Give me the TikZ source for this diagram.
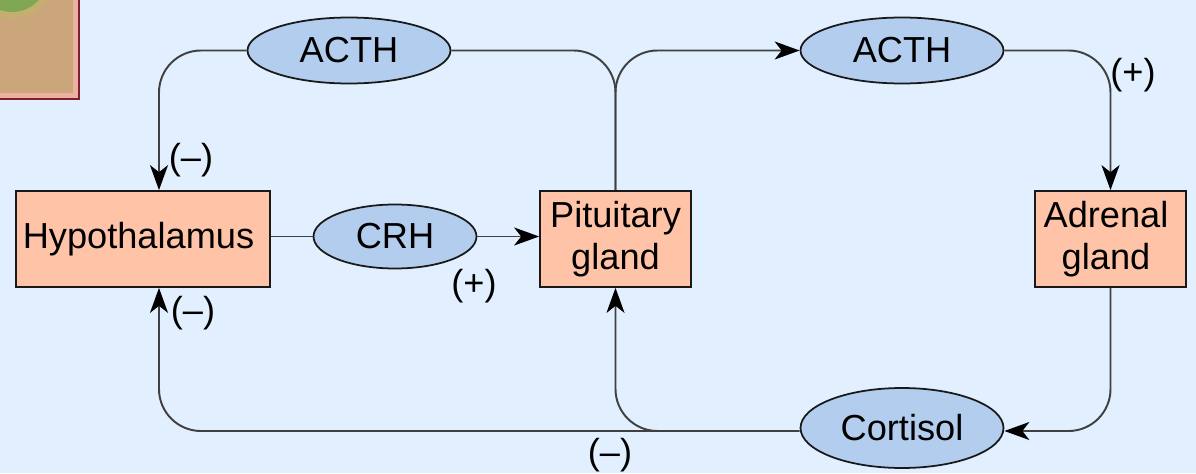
\documentclass[tikz,border=0pt]{standalone}
\usepackage{fontspec}
\setmainfont{Liberation Sans}
\usetikzlibrary{arrows.meta,shapes.geometric}
\definecolor{kbg}{RGB}{226,239,255}
\definecolor{kboxfill}{RGB}{255,196,168}
\definecolor{kovalfill}{RGB}{178,205,238}
\definecolor{ktan}{RGB}{203,166,122}
\definecolor{kpink}{RGB}{236,178,160}
\definecolor{kleaf}{RGB}{128,168,84}
\definecolor{khalo}{RGB}{196,176,110}
\definecolor{kred}{RGB}{130,30,50}
\newcommand{\kgap}{\hspace*{0.18cm}}
\begin{document}
\begin{tikzpicture}[x=0.02cm,y=-0.02cm,
  every node/.style={font=\fontsize{20.6}{24}\selectfont,text=black},
  kbox/.style={draw=black!90,line width=1pt,fill=kboxfill,align=center,inner sep=0pt,minimum height=1.92cm},
  koval/.style={ellipse,draw=black!90,line width=1pt,fill=kovalfill,inner sep=0pt,minimum width=4.06cm,minimum height=1.32cm},
  kline/.style={draw=black!75,line width=1.1pt},
  karrow/.style={kline,-{Stealth[length=0.5cm,width=0.36cm,inset=0.14cm,color=black]}},
  kround/.style={rounded corners=0.84cm}]
\useasboundingbox (0,0) rectangle (1196,473);
\fill[kbg] (0,0) rectangle (1196,473);
%small picture in the corner
\begin{scope}
\clip (0,0) rectangle (80,100);
\fill[kpink] (-5,-5) rectangle (79,99);
\fill[ktan] (-5,-5) rectangle (73,93);
\fill[khalo] (12,-24) circle (42);
\fill[kleaf] (12,-24) circle (36);
\draw[kred,line width=0.9pt] (-5,-5) rectangle (79,99);
\end{scope}
%boxes and ovals
\node[kbox,minimum width=5.08cm] (hypo) at (143,239) {Hypothalamus\kgap};
\node[kbox,minimum width=3.02cm] (pit) at (615.5,239) {Pituitary\\gland};
\node[kbox,minimum width=3.02cm] (adr) at (1110.5,239) {Adrenal\kgap\\gland\kgap};
\node[koval] (acthl) at (349,50.5) {ACTH};
\node[koval] (acthr) at (902,50.5) {ACTH};
\node[koval,minimum width=3.26cm,minimum height=1.28cm] (crh) at (395,236.5) {CRH};
\node[koval,minimum height=1.6cm] (cort) at (902,428) {Cortisol};
\coordinate (kbr) at (667,431);
%connectors
\draw[karrow,kround] (acthl.west) -| ([xshift=0.32cm]hypo.north);
\draw[kline,kround] (acthl.east) -| (pit.north);
\draw[karrow,kround] (pit.north) |- (acthr.west);
\draw[karrow,kround] (acthr.east) -| (adr.north);
\draw[karrow,kround] (adr.south) |- ([yshift=-0.06cm]cort.east);
\draw[karrow,kround] ([yshift=-0.06cm]cort.west) -| ([xshift=0.32cm]hypo.south);
\draw[karrow,kround] (kbr) -| (pit.south);
\draw[kline] (crh.west -| hypo.east) -- (crh.west);
\draw[karrow] (crh.east) -- (crh.east -| pit.west);
%signs
\foreach \kx/\ky/\klb/\kname in {191/160/(--)/ka,193/313/(--)/kb,474/286/(+)/kc,1133/75/(+)/kd,610/455/(--)/ke}{
  \node (\kname) at (\kx,\ky) {\klb};
}
\end{tikzpicture}
\end{document}
